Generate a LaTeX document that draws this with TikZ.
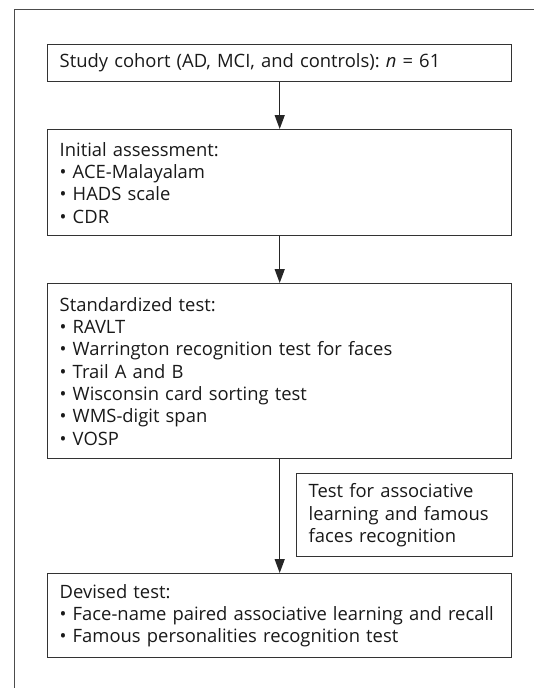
\documentclass[tikz,border=0pt]{standalone}
\usepackage{fontspec}
\setmainfont{Open Sans}
\usetikzlibrary{arrows.meta}

\begin{document}
\begin{tikzpicture}[x=1pt,y=-1pt]
\tikzstyle{stage}=[rectangle,draw=black!80,line width=1.4pt,anchor=north west,align=left,inner xsep=12pt,inner ysep=0pt,text width=440pt,font=\fontsize{18.4}{22.3}\selectfont,text=black!90]
\tikzstyle{note}=[stage,text width=192pt]
\tikzstyle{flow}=[draw=black!85,line width=1.4pt,-{Triangle[width=10pt,length=14pt]}]
\useasboundingbox (0,0) rectangle (534,688);
\draw [line width=1pt,black!70] (14,688) -- (14,9) -- (534,9);
\node [stage,minimum height=37pt] (cohort) at (47,44) {Study cohort (AD, MCI, and controls):~\textit{n} = 61};
\node [stage,minimum height=106pt] (initial) at (47,129) {Initial assessment:\\\textbullet{} ACE-Malayalam\\\textbullet{} HADS scale\\\textbullet{} CDR};
\node [stage,minimum height=175pt] (standard) at (47,283) {Standardized test:\\\textbullet{} RAVLT\\\textbullet{} Warrington recognition test for faces\\\textbullet{} Trail A and B\\\textbullet{} Wisconsin card sorting test\\\textbullet{} WMS-digit span\\\textbullet{} VOSP};
\node [note,minimum height=83pt] (assoc) at (296,473) {Test for associative\\learning and famous\\faces recognition};
\node [stage,minimum height=84pt] (devised) at (47,573) {Devised test:\\\textbullet{} Face-name paired associative learning and recall\\\textbullet{} Famous personalities recognition test};
\draw [flow] (cohort) -- (initial);
\draw [flow] (initial) -- (standard);
\draw [flow] (standard) -- (devised);
\end{tikzpicture}
\end{document}
